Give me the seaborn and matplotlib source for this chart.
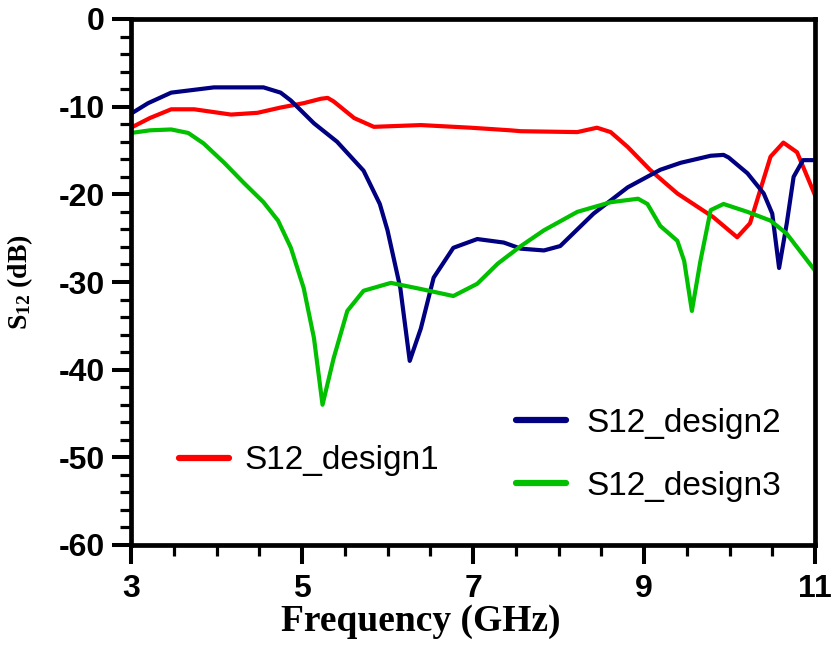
import matplotlib
matplotlib.use("Agg")
import matplotlib.pyplot as plt
from matplotlib.lines import Line2D
from matplotlib.ticker import MultipleLocator
import numpy as np
import pandas as pd
import seaborn as sns

# Frequency (GHz) and S12 (dB) for each design
freq_design1 = [3.0, 3.22, 3.47, 3.74, 4.17, 4.48, 4.75, 5.02, 5.22, 5.30, 5.37,
                5.61, 5.84, 6.39, 6.97, 7.44, 7.56, 8.22, 8.45, 8.61, 8.81, 9.07,
                9.39, 9.81, 10.09, 10.24, 10.36, 10.48, 10.63, 10.79, 11.0]
s12_design1 = [-12.4, -11.3, -10.3, -10.3, -10.9, -10.7, -10.1, -9.6, -9.1, -9.0, -9.4,
               -11.3, -12.3, -12.1, -12.4, -12.7, -12.8, -12.9, -12.4, -12.9, -14.6, -17.2,
               -19.9, -22.6, -24.9, -23.3, -19.5, -15.7, -14.1, -15.2, -20.1]

freq_design2 = [3.0, 3.2, 3.47, 3.97, 4.55, 4.75, 4.87, 5.14, 5.41, 5.72, 5.91, 6.0,
                6.15, 6.26, 6.39, 6.54, 6.77, 7.05, 7.36, 7.56, 7.83, 8.02, 8.41, 8.81,
                9.19, 9.43, 9.78, 9.93, 9.99, 10.21, 10.40, 10.50, 10.58, 10.67, 10.75,
                10.86, 11.0]
s12_design2 = [-10.8, -9.6, -8.4, -7.8, -7.8, -8.4, -9.3, -11.9, -14.0, -17.3, -21.1, -24.1,
               -30.7, -39.0, -35.3, -29.5, -26.1, -25.1, -25.5, -26.2, -26.4, -25.9, -22.2, -19.2,
               -17.2, -16.4, -15.6, -15.5, -15.8, -17.6, -19.9, -22.2, -28.4, -23.3, -18.0,
               -16.1, -16.1]

freq_design3 = [3.0, 3.22, 3.47, 3.67, 3.85, 4.09, 4.32, 4.55, 4.72, 4.87, 5.02, 5.14,
                5.24, 5.37, 5.53, 5.72, 6.04, 6.39, 6.77, 7.05, 7.29, 7.56, 7.83, 8.22,
                8.61, 8.93, 9.04, 9.19, 9.39, 9.47, 9.56, 9.66, 9.78, 9.93, 10.21, 10.48,
                10.67, 11.0]
s12_design3 = [-13.0, -12.7, -12.6, -13.0, -14.2, -16.4, -18.7, -20.9, -23.0, -26.1, -30.7, -36.4,
               -44.0, -38.7, -33.3, -31.0, -30.1, -30.8, -31.6, -30.2, -27.9, -25.9, -24.1, -22.0,
               -20.9, -20.5, -21.1, -23.6, -25.3, -27.6, -33.3, -27.6, -21.8, -21.1, -22.0, -23.0,
               -24.5, -28.7]

series_names = ["S12_design1", "S12_design2", "S12_design3"]
series_colors = ["#FF0000", "#000080", "#00C000"]
x_ticks = [3, 5, 7, 9, 11]
y_ticks = [-60, -50, -40, -30, -20, -10, 0]

frames = []
for name, f, s in zip(series_names,
                      [freq_design1, freq_design2, freq_design3],
                      [s12_design1, s12_design2, s12_design3]):
    frames.append(pd.DataFrame({"freq": f, "s12": s, "series": name}))
data = pd.concat(frames, ignore_index=True)

sns.set_theme(style="ticks")
plt.rcParams["font.family"] = ["Liberation Sans", "DejaVu Sans"]
plt.rcParams["mathtext.fontset"] = "custom"
plt.rcParams["mathtext.rm"] = "Liberation Serif:bold"
plt.rcParams["mathtext.default"] = "rm"
plt.rcParams["axes.unicode_minus"] = False
for key in ["text.color", "axes.labelcolor", "xtick.color", "ytick.color",
            "xtick.labelcolor", "ytick.labelcolor"]:
    plt.rcParams[key] = "black"

fig = plt.figure(figsize=(8.39, 6.68), dpi=100)
ax = fig.add_axes([131 / 839, 1 - 545 / 668, 684 / 839, 526 / 668])

palette = dict(zip(series_names, series_colors))
sns.lineplot(data=data, x="freq", y="s12", hue="series", palette=palette,
             linewidth=3.0, ax=ax, legend=False, sort=False)

ax.set_xlim(3, 11)
ax.set_ylim(-60, 0)
ax.set_xticks(x_ticks)
ax.set_yticks(y_ticks)
ax.xaxis.set_minor_locator(MultipleLocator(0.5))
ax.yaxis.set_minor_locator(MultipleLocator(2))

for sp in ax.spines.values():
    sp.set_visible(True)
    sp.set_linewidth(3.4)
    sp.set_color("black")

ax.tick_params(axis="both", which="major", direction="out", length=14, width=2.9,
               color="black", labelcolor="black")
ax.tick_params(axis="both", which="minor", direction="out", length=8, width=2.3,
               color="black")
ax.tick_params(axis="y", which="major", pad=5)
ax.tick_params(axis="x", which="major", pad=7)
for lbl in ax.get_xticklabels() + ax.get_yticklabels():
    lbl.set_fontfamily("Liberation Sans")
    lbl.set_fontweight("bold")
    lbl.set_fontsize(23)

ax.set_xlabel("Frequency (GHz)", fontfamily="Liberation Serif", fontweight="bold",
              fontsize=27, color="black")
ax.xaxis.set_label_coords((421 - 131) / 684, -0.112)
ax.set_ylabel("S$_{12}$ (dB)", fontfamily="Liberation Serif", fontweight="bold",
              fontsize=20, color="black")
ax.yaxis.set_label_coords(-0.14, 0.5)

handles = [Line2D([], [], color=c, linewidth=4.5) for c in series_colors]
leg_font = {"family": "Liberation Sans", "size": 24}

leg1 = ax.legend([handles[0]], [series_names[0]], loc="center left",
                 bbox_to_anchor=(166 / 839, 1 - 461 / 668),
                 bbox_transform=fig.transFigure, frameon=False, prop=leg_font,
                 handlelength=1.5, handletextpad=0.45, borderaxespad=0)
ax.add_artist(leg1)
ax.legend(handles[1:], series_names[1:], loc="center left",
          bbox_to_anchor=(503 / 839, 1 - 455 / 668),
          bbox_transform=fig.transFigure, frameon=False, prop=leg_font,
          handlelength=1.5, handletextpad=0.6, labelspacing=0.95, borderaxespad=0)

fig.savefig("out.png", dpi=100)
